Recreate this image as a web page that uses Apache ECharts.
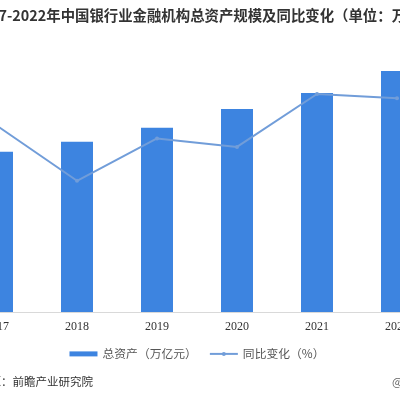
<!DOCTYPE html>
<html>
<head>
<meta charset="utf-8">
<script src="https://cdn.jsdelivr.net/npm/echarts@6/dist/echarts.min.js"></script>
<style>html,body{margin:0;padding:0;background:#fff;overflow:hidden;width:400px;height:400px;position:relative;}#c{position:absolute;left:-43px;top:0;width:480px;height:400px;}</style>
</head>
<body>
<div id="c"></div>
<script>
const categories = ['2017', '2018', '2019', '2020', '2021', '2022'];
const totalAssets = [252.4, 268.2, 290.0, 319.7, 344.8, 379.4];
const yoyChange = [8.8, 6.2, 8.2, 7.8, 10.3, 10.1];
const seriesNames = ['总资产（万亿元）', '同比变化（%）'];
const titleText = '2017-2022年中国银行业金融机构总资产规模及同比变化（单位：万亿元，%）';
const sourceText = '资料来源：前瞻产业研究院';

const chart = echarts.init(document.getElementById('c'), null, {renderer: 'canvas'});
chart.setOption({
  animation: false,
  backgroundColor: '#ffffff',
  title: {
    text: titleText,
    left: 11, top: 3,
    textStyle: {fontFamily: 'Noto Sans CJK SC', fontSize: 14.4, fontWeight: 'bold', color: '#333333'}
  },
  grid: {left: 0, right: 0, top: 58, bottom: 88, containLabel: false},
  legend: {
    top: 343, left: 'center',
    itemGap: 12,
    itemWidth: 28, itemHeight: 5,
    textStyle: {fontFamily: 'Noto Sans CJK SC', fontSize: 11.8, color: '#555555'},
    data: [
      {name: seriesNames[0], icon: 'rect'},
      {name: seriesNames[1]}
    ]
  },
  xAxis: {
    type: 'category', data: categories,
    axisLine: {lineStyle: {color: '#d9d9d9'}},
    axisTick: {show: false},
    axisLabel: {fontFamily: 'Liberation Serif', fontSize: 12, color: '#333333', margin: 9}
  },
  yAxis: [
    {type: 'value', min: 0, max: 400, show: false, splitLine: {show: false}},
    {type: 'value', min: 0, max: 12, show: false, splitLine: {show: false}}
  ],
  series: [
    {
      name: seriesNames[0], type: 'bar', data: totalAssets, barWidth: 32,
      itemStyle: {color: '#3d84e0'}
    },
    {
      name: seriesNames[1], type: 'line', yAxisIndex: 1, data: yoyChange,
      symbol: 'circle', symbolSize: 4,
      lineStyle: {color: '#719dd9', width: 2},
      itemStyle: {color: '#719dd9'}
    }
  ],
  graphic: [
    {type: 'text', left: -2, top: 376,
     style: {text: sourceText, font: '11.5px "Noto Sans CJK SC"', fill: '#333333'}},
    {type: 'text', left: 435, top: 376,
     style: {text: '@前瞻经济学人', font: '11.5px "Noto Sans CJK SC"', fill: '#666666'}}
  ]
});
</script>
</body>
</html>
